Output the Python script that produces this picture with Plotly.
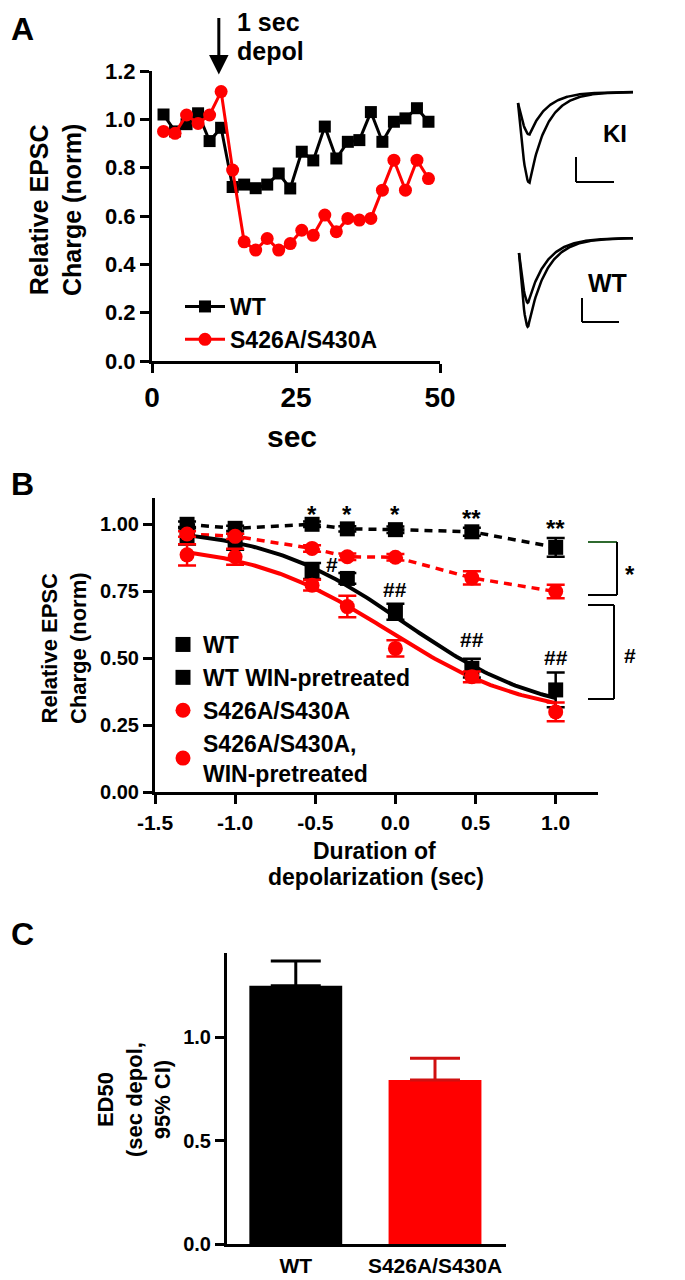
import numpy as np
import plotly.graph_objects as go

# The page body adds an 8px offset; the figure is sized so that it fills the window after it.
OFF = 8
W, H = 685 - OFF, 1280 - OFF
FONT = "Liberation Sans, Arial, sans-serif"
BLACK = "#000000"
RED = "#ff0000"
DARKRED = "#d01010"

# ---------------- Panel A data ----------------
time_s = [2, 4, 6, 8, 10, 12, 14, 16, 18, 20, 22, 24, 26, 28, 30, 32, 34, 36, 38, 40, 42, 44, 46, 48]
wt_time = [1.02, 0.95, 0.98, 1.025, 0.91, 0.965, 0.72, 0.73, 0.715, 0.73, 0.776, 0.714, 0.866, 0.83,
           0.97, 0.838, 0.907, 0.914, 1.03, 0.907, 0.99, 1.004, 1.046, 0.99]
ko_time = [0.95, 0.942, 1.018, 0.983, 1.018, 1.115, 0.79, 0.493, 0.459, 0.507, 0.459, 0.486, 0.541, 0.52,
           0.604, 0.535, 0.59, 0.583, 0.59, 0.707, 0.831, 0.707, 0.831, 0.755]
names_a = ["WT", "S426A/S430A"]
ticks_a_x = [0, 25, 50]
ticks_a_y = [0, 0.2, 0.4, 0.6, 0.8, 1.0, 1.2]

# ---------------- Panel B data ----------------
dur_log = [-1.3, -1.0, -0.52, -0.3, 0.0, 0.477, 1.0]
wt_ctrl = [1.00, 0.985, 1.00, 0.983, 0.98, 0.972, 0.914]
wt_ctrl_err = [0.01, 0.01, 0.01, 0.01, 0.012, 0.015, 0.035]
wt_win = [0.955, 0.935, 0.826, 0.798, 0.674, 0.463, 0.382]
wt_win_err = [0.03, 0.03, 0.03, 0.02, 0.03, 0.035, 0.065]
ko_ctrl = [0.964, 0.955, 0.91, 0.879, 0.877, 0.80, 0.749]
ko_ctrl_err = [0.01, 0.01, 0.012, 0.012, 0.012, 0.025, 0.025]
ko_win = [0.886, 0.879, 0.773, 0.693, 0.537, 0.431, 0.30]
ko_win_err = [0.04, 0.03, 0.02, 0.04, 0.03, 0.02, 0.035]
names_b = ["WT", "WT WIN-pretreated", "S426A/S430A", "S426A/S430A,<br>WIN-pretreated"]
ticks_b_x = [-1.5, -1.0, -0.5, 0.0, 0.5, 1.0]
ticks_b_x_text = ["-1.5", "-1.0", "-0.5", "0.0", "0.5", "1.0"]
ticks_b_y = [0, 0.25, 0.5, 0.75, 1.0]
# sigmoidal fit parameters (top, bottom, logED50, hill)
fit_wt_win = (0.99, 0.28, 0.05, 1.0)
fit_ko_win = (0.93, 0.28, -0.05, 1.0)
stars_x = [-0.52, -0.3, 0.0, 0.477, 1.0]
stars_y = [1.038, 1.038, 1.038, 1.020, 0.983]
stars_txt = ["*", "*", "*", "**", "**"]
hash_x = [-0.395, 0.0, 0.477, 1.0]
hash_y = [0.849, 0.755, 0.569, 0.502]
hash_txt = ["#", "##", "##", "##"]

# ---------------- Panel C data ----------------
groups_c = ["WT", "S426A/S430A"]
ed50 = [1.25, 0.795]
ed50_ci = [0.12, 0.105]
ticks_c_y = [0, 0.5, 1.0]

# ---------------- Example traces (illustration) ----------------
trace_amp_ki = [1.0, 0.47]
trace_amp_wt = [1.0, 0.73]


def px_x(p):
    return (p - OFF) / W


def px_y(p):
    return 1 - (p - OFF) / H


def logistic(x, p):
    top, bottom, c, h = p
    x = np.asarray(x)
    return bottom + (top - bottom) / (1 + 10 ** (h * (x - c)))


def epsc(x0, x1, y_start, y_base, depth, tp, tau, n=160):
    t = np.linspace(0, 1, n)
    y_min = y_base + depth
    y = np.where(
        t <= tp,
        y_start + (y_min - y_start) * np.sin(np.pi / 2 * np.clip(t / tp, 0, 1)),
        y_base + (y_min - y_base) * np.exp(-(t - tp) / tau),
    )
    return x0 + t * (x1 - x0), y


fig = go.Figure()

# ---- Panel A ----
fig.add_trace(go.Scatter(x=time_s, y=wt_time, mode="lines+markers", name=names_a[0],
                         line=dict(color=BLACK, width=3),
                         marker=dict(symbol="square", size=12, color=BLACK),
                         xaxis="x", yaxis="y", legend="legend"))
fig.add_trace(go.Scatter(x=time_s, y=ko_time, mode="lines+markers", name=names_a[1],
                         line=dict(color=RED, width=3),
                         marker=dict(symbol="circle", size=13, color=RED),
                         xaxis="x", yaxis="y", legend="legend"))

# ---- Panel B ----
xf = np.linspace(dur_log[0], dur_log[-1], 120)
fig.add_trace(go.Scatter(x=dur_log, y=wt_ctrl, mode="lines", showlegend=False,
                         line=dict(color=BLACK, width=3.5, dash="8px,6px"), xaxis="x2", yaxis="y2"))
fig.add_trace(go.Scatter(x=dur_log, y=ko_ctrl, mode="lines", showlegend=False,
                         line=dict(color=RED, width=3.5, dash="8px,6px"), xaxis="x2", yaxis="y2"))
fig.add_trace(go.Scatter(x=xf, y=logistic(xf, fit_wt_win), mode="lines", showlegend=False,
                         line=dict(color=BLACK, width=4), xaxis="x2", yaxis="y2"))
fig.add_trace(go.Scatter(x=xf, y=logistic(xf, fit_ko_win), mode="lines", showlegend=False,
                         line=dict(color=RED, width=4), xaxis="x2", yaxis="y2"))

for yy, ee, nm, col, sym in [
    (wt_ctrl, wt_ctrl_err, names_b[0], BLACK, "square"),
    (wt_win, wt_win_err, names_b[1], BLACK, "square"),
    (ko_ctrl, ko_ctrl_err, names_b[2], RED, "circle"),
    (ko_win, ko_win_err, names_b[3], RED, "circle"),
]:
    fig.add_trace(go.Scatter(x=dur_log, y=yy, mode="markers", name=nm,
                             marker=dict(symbol=sym, size=15, color=col),
                             error_y=dict(type="data", array=ee, color=col, thickness=2.5, width=9),
                             xaxis="x2", yaxis="y2", legend="legend2"))

# ---- Panel C ----
for g, v, ci, col, ecol in zip(groups_c, ed50, ed50_ci, [BLACK, RED], [BLACK, DARKRED]):
    fig.add_trace(go.Bar(x=[g], y=[v], width=0.667, marker=dict(color=col, line=dict(width=0)),
                         error_y=dict(type="data", array=[ci], arrayminus=[0], symmetric=False,
                                      color=ecol, thickness=3, width=25),
                         showlegend=False, xaxis="x3", yaxis="y3"))

# ---- Example EPSC traces ----
for amp in trace_amp_ki:
    tx, ty = epsc(518, 633, 103, 92, 91 * amp, 0.10, 0.15)
    fig.add_trace(go.Scatter(x=tx, y=ty, mode="lines", showlegend=False, hoverinfo="skip",
                             line=dict(color=BLACK, width=2.5), xaxis="x4", yaxis="y4"))
for amp in trace_amp_wt:
    tx, ty = epsc(519, 633, 253, 238, 89 * amp, 0.08, 0.16)
    fig.add_trace(go.Scatter(x=tx, y=ty, mode="lines", showlegend=False, hoverinfo="skip",
                             line=dict(color=BLACK, width=2.5), xaxis="x4", yaxis="y4"))

axis_common = dict(showgrid=False, zeroline=False, showline=True, linecolor=BLACK, linewidth=3,
                   ticks="outside", ticklen=9, tickwidth=3, tickcolor=BLACK, automargin=False)

fig.update_layout(
    width=W, height=H, autosize=False,
    margin=dict(l=0, r=0, t=0, b=0, pad=0, autoexpand=False),
    paper_bgcolor="white", plot_bgcolor="rgba(0,0,0,0)",
    font=dict(family=FONT, color=BLACK, weight="bold"),
    barmode="overlay",
    xaxis=dict(domain=[px_x(152), px_x(440)], range=[0, 50], tickvals=ticks_a_x,
               tickfont=dict(size=28, family=FONT, weight="bold"), anchor="y", **axis_common),
    yaxis=dict(domain=[px_y(361), px_y(71)], range=[0, 1.2], tickvals=ticks_a_y,
               tickformat=".1f", tickfont=dict(size=22, family=FONT, weight="bold"), anchor="x", **axis_common),
    xaxis2=dict(domain=[px_x(155), px_x(598)], range=[-1.5, 1.264], tickvals=ticks_b_x, ticktext=ticks_b_x_text,
                tickfont=dict(size=21, family=FONT, weight="bold"), anchor="y2", **axis_common),
    yaxis2=dict(domain=[px_y(792.3), px_y(497.5)], range=[0, 1.1], tickvals=ticks_b_y,
                tickformat=".2f", tickfont=dict(size=20, family=FONT, weight="bold"), anchor="x2", **axis_common),
    xaxis3=dict(domain=[px_x(227), px_x(506)], type="category", range=[-0.494, 1.51],
                tickfont=dict(size=21, family=FONT, weight="bold"), anchor="y3", automargin=False,
                showgrid=False, zeroline=False, showline=True, linecolor=BLACK, linewidth=3, ticks=""),
    yaxis3=dict(domain=[px_y(1244.3), px_y(952.7)], range=[0, 1.41], tickvals=ticks_c_y,
                tickformat=".1f", tickfont=dict(size=20, family=FONT, weight="bold"), anchor="x3", **axis_common),
    xaxis4=dict(domain=[px_x(460), 1], range=[460, 685], visible=False, anchor="y4"),
    yaxis4=dict(domain=[px_y(360), px_y(60)], range=[360, 60], visible=False, anchor="x4"),
    legend=dict(x=px_x(180), y=px_y(285), xanchor="left", yanchor="top", bgcolor="rgba(0,0,0,0)",
                font=dict(size=23, family=FONT, weight="bold"), itemwidth=40, tracegroupgap=0),
    legend2=dict(x=px_x(163), y=px_y(623), xanchor="left", yanchor="top", bgcolor="rgba(0,0,0,0)",
                 font=dict(size=23, family=FONT, weight="bold"), itemwidth=30, tracegroupgap=0),
)

ann = []


def text_px(x, y, t, size, xanchor="center", angle=0, yanchor="middle"):
    ann.append(dict(x=px_x(x), y=px_y(y), xref="paper", yref="paper", text=t, showarrow=False,
                    xanchor=xanchor, yanchor=yanchor, textangle=angle,
                    font=dict(size=size, family=FONT, color=BLACK, weight="bold")))


# panel letters
text_px(9, 9, "A", 32, xanchor="left", yanchor="top")
text_px(9, 484, "B", 32, xanchor="left")
text_px(9, 934, "C", 32, xanchor="left")

# Panel A texts
text_px(235, 22, "1 sec", 25, xanchor="left")
text_px(235, 51, "depol", 25, xanchor="left")
ann.append(dict(x=11.6, y=1.185, xref="x", yref="y", ax=0, ay=-58, text="", showarrow=True,
                arrowhead=2, arrowsize=1.3, arrowwidth=3, arrowcolor=BLACK))
text_px(55, 210, "Relative EPSC<br>Charge (norm)", 25, angle=-90)
text_px(292, 436, "sec", 30)

# traces labels
text_px(615, 133, "KI", 24)
text_px(607, 283, "WT", 25)

# Panel B texts
text_px(64, 648, "Relative EPSC<br>Charge (norm)", 22, angle=-90)
text_px(375, 851, "Duration of", 23)
text_px(376, 877, "depolarization (sec)", 23)
for sx, sy, st in zip(stars_x, stars_y, stars_txt):
    ann.append(dict(x=sx, y=sy, xref="x2", yref="y2", text=st, showarrow=False, yanchor="middle",
                    font=dict(size=24, family=FONT, color=BLACK)))
for hx, hy, ht in zip(hash_x, hash_y, hash_txt):
    ann.append(dict(x=hx, y=hy, xref="x2", yref="y2", text=ht, showarrow=False, yanchor="middle",
                    font=dict(size=21, family=FONT, color=BLACK)))
text_px(630, 574, "*", 24)
text_px(630, 655, "#", 21)

# Panel C y title
text_px(134, 1100, "ED50<br>(sec depol,<br>95% CI)", 22, angle=-90)

fig.update_layout(annotations=ann)

# brackets (panel B) and scale bars (traces)
shapes = []


def line_px(x0, y0, x1, y1, color=BLACK, width=2):
    shapes.append(dict(type="line", xref="paper", yref="paper", x0=px_x(x0), y0=px_y(y0),
                       x1=px_x(x1), y1=px_y(y1), line=dict(color=color, width=width)))


line_px(588, 542, 617, 542, color="#2f6a2f")
line_px(617, 542, 617, 595)
line_px(588, 595, 617, 595)
line_px(588, 605, 614, 605)
line_px(614, 605, 614, 699)
line_px(588, 699, 614, 699)
# scale bars
line_px(576, 157, 576, 182)
line_px(576, 182, 614, 182)
line_px(582, 298, 582, 322)
line_px(582, 322, 619, 322)
fig.update_layout(shapes=shapes)

fig.write_html("out.html")
